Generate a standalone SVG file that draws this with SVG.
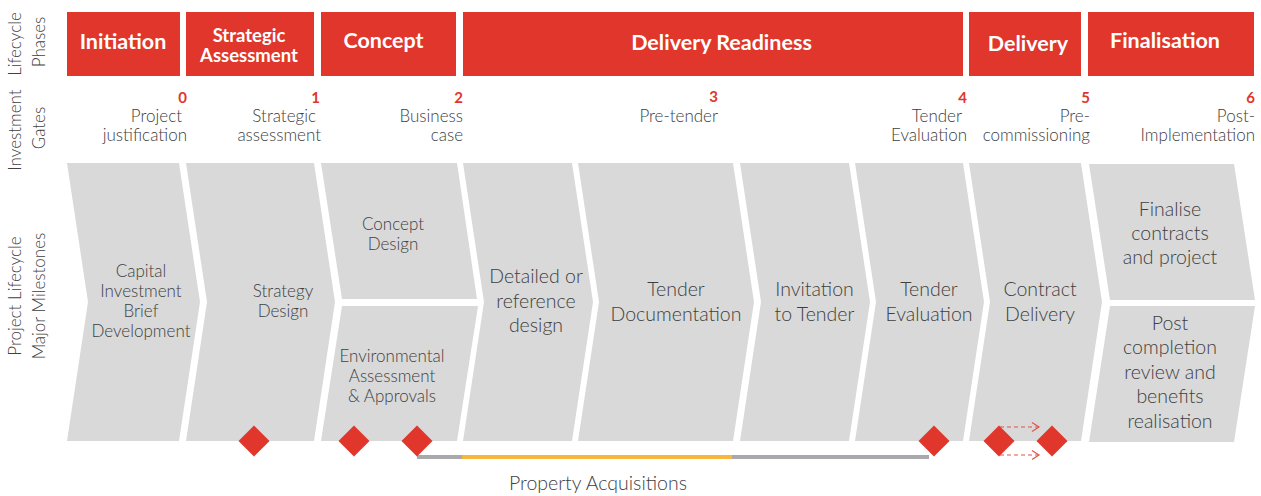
<svg xmlns="http://www.w3.org/2000/svg" width="1261" height="496" viewBox="0 0 1261 496">
<defs>
<style>
.phase{fill:#e0362b}
.ph{font-family:Lato,"Liberation Sans",sans-serif;font-weight:700;fill:#ffffff;text-anchor:middle}
.gn{font-family:Lato,"Liberation Sans",sans-serif;font-weight:700;font-size:15px;fill:#e0362b;text-anchor:end}
.gl{font-family:Lato,"Liberation Sans",sans-serif;font-weight:300;font-size:17px;fill:#404040;text-anchor:end}
.side{font-family:Lato,"Liberation Sans",sans-serif;font-weight:300;font-size:17px;fill:#404040;text-anchor:middle}
.chev{fill:#d9d9d9}
.t17{font-family:Lato,"Liberation Sans",sans-serif;font-weight:300;font-size:17px;fill:#404040;text-anchor:middle}
.t19{font-family:Lato,"Liberation Sans",sans-serif;font-weight:300;font-size:19.5px;fill:#404040;text-anchor:middle}
.dia{fill:#e0362b}
.dash{fill:none;stroke:#e45247;stroke-width:1.2;stroke-dasharray:4 3}
</style>
<marker id="open" markerUnits="userSpaceOnUse" markerWidth="10" markerHeight="12" refX="8" refY="5" orient="auto">
<path d="M1,0.5 L8,5 L1,9.5" fill="none" stroke="#e45247" stroke-width="1.2"/>
</marker>
</defs>
<rect width="1261" height="496" fill="#ffffff"/>

<g id="row-labels">
<text class="side" transform="translate(21,44) rotate(-90)">Lifecycle</text>
<text class="side" transform="translate(45,42) rotate(-90)">Phases</text>
<text class="side" transform="translate(21,130) rotate(-90)">Investment</text>
<text class="side" transform="translate(45,128) rotate(-90)">Gates</text>
<text class="side" transform="translate(21,296) rotate(-90)">Project Lifecycle</text>
<text class="side" transform="translate(45,296) rotate(-90)">Major Milestones</text>
</g>

<g id="phase-initiation"><rect class="phase" x="67" y="12" width="113" height="64"/><text class="ph" x="123" y="49" font-size="21.5">Initiation</text></g>
<g id="phase-strategic"><rect class="phase" x="186" y="12" width="128" height="64"/><text class="ph" x="249" y="41.5" font-size="18.5">Strategic</text><text class="ph" x="249" y="62" font-size="18.5">Assessment</text></g>
<g id="phase-concept"><rect class="phase" x="321" y="12" width="135" height="64"/><text class="ph" x="383.5" y="48" font-size="21.5">Concept</text></g>
<g id="phase-delivery-readiness"><rect class="phase" x="463" y="12" width="500" height="64"/><text class="ph" x="721.5" y="50" font-size="21.5">Delivery Readiness</text></g>
<g id="phase-delivery"><rect class="phase" x="969" y="12" width="112" height="64"/><text class="ph" x="1028" y="51" font-size="21.5">Delivery</text></g>
<g id="phase-finalisation"><rect class="phase" x="1088" y="12" width="166" height="64"/><text class="ph" x="1165" y="48" font-size="21.5">Finalisation</text></g>

<g id="gate-0"><text class="gn" x="187" y="103">0</text><text class="gl" x="182" y="122">Project</text><text class="gl" x="187" y="141">justification</text></g>
<g id="gate-1"><text class="gn" x="320" y="103">1</text><text class="gl" x="316" y="122">Strategic</text><text class="gl" x="321" y="141">assessment</text></g>
<g id="gate-2"><text class="gn" x="463" y="103">2</text><text class="gl" x="463" y="122">Business</text><text class="gl" x="463" y="141">case</text></g>
<g id="gate-3"><text class="gn" x="718" y="102">3</text><text class="gl" x="718" y="122">Pre-tender</text></g>
<g id="gate-4"><text class="gn" x="967" y="103">4</text><text class="gl" x="962" y="122">Tender</text><text class="gl" x="967" y="141">Evaluation</text></g>
<g id="gate-5"><text class="gn" x="1090" y="103">5</text><text class="gl" x="1090" y="122">Pre-</text><text class="gl" x="1090" y="141">commissioning</text></g>
<g id="gate-6"><text class="gn" x="1255" y="103">6</text><text class="gl" x="1255" y="122">Post-</text><text class="gl" x="1255" y="141">Implementation</text></g>

<g id="ms-capital"><path class="chev" d="M67,163 L179,163 L200,302 L179,441 L67,441 L88,302 Z"/>
<text class="t17" x="141" y="277">Capital</text><text class="t17" x="141" y="297">Investment</text><text class="t17" x="141" y="317">Brief</text><text class="t17" x="141" y="337">Development</text></g>
<g id="ms-strategy"><path class="chev" d="M186,163 L314,163 L335,302 L314,441 L186,441 L207,302 Z"/>
<text class="t17" x="283" y="297">Strategy</text><text class="t17" x="283" y="317">Design</text></g>
<g id="ms-concept"><path class="chev" d="M321,163 L457,163 L477,299 L342,299 Z"/>
<text class="t17" x="393" y="230">Concept</text><text class="t17" x="393" y="250">Design</text></g>
<g id="ms-environmental"><path class="chev" d="M342,306 L478,306 L457,441 L321,441 Z"/>
<text class="t17" x="392" y="362">Environmental</text><text class="t17" x="392" y="382">Assessment</text><text class="t17" x="392" y="402">&amp; Approvals</text></g>
<g id="ms-detailed"><path class="chev" d="M463,163 L572,163 L593,302 L572,441 L463,441 L484,302 Z"/>
<text class="t19" x="536" y="283">Detailed or</text><text class="t19" x="536" y="307.5">reference</text><text class="t19" x="536" y="331.5">design</text></g>
<g id="ms-tender-doc"><path class="chev" d="M578,163 L733,163 L754,302 L733,441 L578,441 L599,302 Z"/>
<text class="t19" x="676" y="296">Tender</text><text class="t19" x="676" y="320.5">Documentation</text></g>
<g id="ms-invitation"><path class="chev" d="M740,163 L849,163 L870,302 L849,441 L740,441 L761,302 Z"/>
<text class="t19" x="814.5" y="296">Invitation</text><text class="t19" x="814.5" y="320.5">to Tender</text></g>
<g id="ms-tender-eval"><path class="chev" d="M855,163 L963,163 L984,302 L963,441 L855,441 L876,302 Z"/>
<text class="t19" x="929" y="296">Tender</text><text class="t19" x="929" y="320.5">Evaluation</text></g>
<g id="ms-contract"><path class="chev" d="M969,163 L1081,163 L1102,302 L1081,441 L969,441 L990,302 Z"/>
<text class="t19" x="1040" y="296">Contract</text><text class="t19" x="1040" y="320.5">Delivery</text></g>
<g id="ms-finalise"><path class="chev" d="M1089,164 L1234,164 L1255,300 L1110,300 Z"/>
<text class="t19" x="1170" y="216">Finalise</text><text class="t19" x="1170" y="240">contracts</text><text class="t19" x="1170" y="264">and project</text></g>
<g id="ms-post"><path class="chev" d="M1110,306 L1255,306 L1234,442 L1089,442 Z"/>
<text class="t19" x="1170" y="330">Post</text><text class="t19" x="1170" y="354">completion</text><text class="t19" x="1170" y="379">review and</text><text class="t19" x="1170" y="403">benefits</text><text class="t19" x="1170" y="428">realisation</text></g>

<g id="property-acquisitions">
<line x1="417" y1="457" x2="929" y2="457" stroke="#a9a9ad" stroke-width="4"/>
<line x1="462" y1="457" x2="732" y2="457" stroke="#f6b73c" stroke-width="4"/>
<text class="t19" x="598" y="490">Property Acquisitions</text>
</g>

<g id="connectors">
<line class="dash" x1="1000" y1="427" x2="1039" y2="427" marker-end="url(#open)"/>
<line class="dash" x1="1000" y1="455" x2="1039" y2="455" marker-end="url(#open)"/>
</g>

<g id="milestones">
<polygon class="dia" points="254,425.5 269.5,441 254,456.5 238.5,441"/>
<polygon class="dia" points="354,425.5 369.5,441 354,456.5 338.5,441"/>
<polygon class="dia" points="417,425.5 432.5,441 417,456.5 401.5,441"/>
<polygon class="dia" points="934,425.5 949.5,441 934,456.5 918.5,441"/>
<polygon class="dia" points="999,425.5 1014.5,441 999,456.5 983.5,441"/>
<polygon class="dia" points="1052,425.5 1067.5,441 1052,456.5 1036.5,441"/>
</g>
</svg>
